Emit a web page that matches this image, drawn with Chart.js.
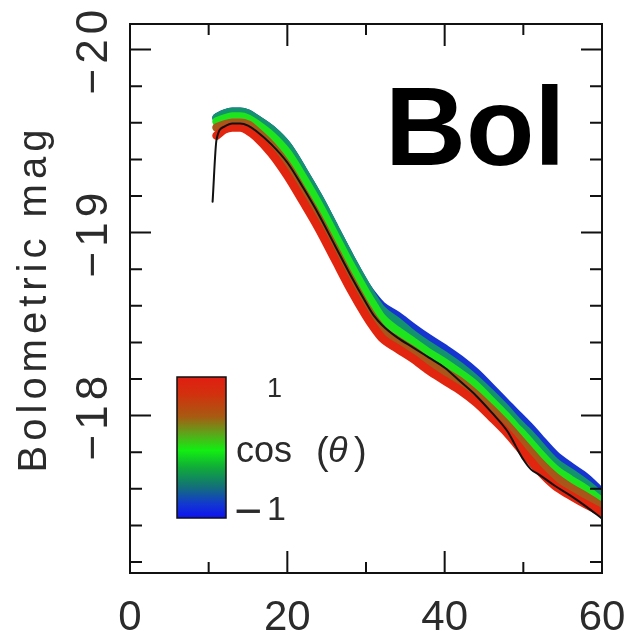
<!DOCTYPE html>
<html>
<head>
<meta charset="utf-8">
<script src="https://cdn.jsdelivr.net/npm/chart.js@4.4.1/dist/chart.umd.min.js"></script>
<style>
  html, body { margin: 0; padding: 0; background: #fff; }
  #wrap { width: 624px; height: 631px; position: relative; }
</style>
</head>
<body>
<div id="wrap"><canvas id="myChart"></canvas></div>
<script>
// days since explosion
let blackDays = [10.5, 11, 12, 13, 14, 15, 16, 18, 20, 22, 24, 26, 28, 30, 31, 32, 34, 36, 38, 40, 42, 44, 46, 48, 49, 50, 51, 52, 54, 56, 58, 60];
let days = [11, 12, 13, 14, 15, 16, 18, 20, 22, 24, 26, 28, 30, 31, 32, 34, 36, 38, 40, 42, 44, 46, 48, 49, 50, 51, 52, 54, 56, 58, 60];

// bolometric magnitudes
let magBlack = [-19.169, -19.508, -19.579, -19.596, -19.596, -19.585, -19.557, -19.481, -19.383, -19.246, -19.098, -18.934, -18.770, -18.617, -18.546, -18.497, -18.426, -18.372, -18.317, -18.262, -18.186, -18.109, -18.016, -17.913, -17.836, -17.760, -17.705, -17.678, -17.617, -17.563, -17.503, -17.437];
let magCos1 = [-19.530, -19.563, -19.574, -19.574, -19.557, -19.525, -19.432, -19.311, -19.169, -19.022, -18.858, -18.694, -18.546, -18.481, -18.426, -18.366, -18.311, -18.246, -18.191, -18.137, -18.071, -17.989, -17.902, -17.852, -17.798, -17.749, -17.699, -17.617, -17.563, -17.514, -17.470];
let magCosHalf = [-19.574, -19.590, -19.601, -19.601, -19.590, -19.557, -19.475, -19.366, -19.224, -19.077, -18.913, -18.749, -18.596, -18.530, -18.475, -18.410, -18.355, -18.295, -18.240, -18.186, -18.115, -18.033, -17.945, -17.896, -17.847, -17.798, -17.749, -17.667, -17.607, -17.557, -17.503];
let magCos0 = [-19.607, -19.623, -19.634, -19.634, -19.623, -19.596, -19.530, -19.437, -19.301, -19.153, -18.989, -18.825, -18.672, -18.601, -18.536, -18.464, -18.404, -18.344, -18.290, -18.230, -18.164, -18.077, -17.989, -17.940, -17.896, -17.847, -17.798, -17.710, -17.650, -17.596, -17.530];
let magCosMinusHalf = [-19.628, -19.650, -19.661, -19.661, -19.650, -19.623, -19.563, -19.475, -19.339, -19.191, -19.027, -18.863, -18.710, -18.639, -18.579, -18.514, -18.443, -18.383, -18.328, -18.268, -18.197, -18.115, -18.027, -17.978, -17.934, -17.891, -17.842, -17.749, -17.689, -17.628, -17.557];
let magCosMinus1 = [-19.628, -19.650, -19.661, -19.661, -19.650, -19.623, -19.563, -19.475, -19.339, -19.191, -19.027, -18.863, -18.710, -18.650, -18.601, -18.546, -18.481, -18.421, -18.366, -18.306, -18.235, -18.148, -18.060, -18.016, -17.973, -17.929, -17.880, -17.787, -17.721, -17.661, -17.579];

let cosLabels = ["1", "0.5", "0", "-0.5", "-1"];
let cosColors = ["#e2250e", "#a8561a", "#1ee41e", "#13926e", "#1534d0"];

let xMajor = [0, 20, 40, 60];
let xMinor = [10, 30, 50];
let yMajor = [-20, -19, -18];
let yMinor = [-19.8, -19.6, -19.4, -19.2, -18.8, -18.6, -18.4, -18.2, -17.8, -17.6, -17.4, -17.2];
let yMin = -20.14;
let yMax = -17.14;

const FONT = "'Liberation Sans', Arial, Helvetica, sans-serif";

function toPoints(xs, ys) {
  return xs.map((x, i) => ({ x: x, y: ys[i] }));
}

const decorPlugin = {
  id: "decor",
  afterDraw(chart) {
    const ctx = chart.ctx;
    const area = chart.chartArea;
    const xs = chart.scales.x;
    const ys = chart.scales.y;
    ctx.save();

    // frame + inward ticks on all four sides
    ctx.strokeStyle = "#111";
    ctx.lineWidth = 2;
    ctx.strokeRect(area.left, area.top, area.right - area.left, area.bottom - area.top);
    ctx.beginPath();
    xMajor.concat(xMinor).forEach((v) => {
      const len = xMajor.includes(v) ? 22 : 11;
      const px = xs.getPixelForValue(v);
      ctx.moveTo(px, area.bottom);
      ctx.lineTo(px, area.bottom - len);
      ctx.moveTo(px, area.top);
      ctx.lineTo(px, area.top + len);
    });
    yMajor.concat(yMinor).forEach((v) => {
      const len = yMajor.includes(v) ? 21 : 12;
      const py = ys.getPixelForValue(v);
      ctx.moveTo(area.left, py);
      ctx.lineTo(area.left + len, py);
      ctx.moveTo(area.right, py);
      ctx.lineTo(area.right - len, py);
    });
    ctx.stroke();

    // rotated y tick labels
    ctx.fillStyle = "#2b2b2b";
    ctx.font = "44px " + FONT;
    ctx.letterSpacing = "5px";
    ctx.textAlign = "center";
    ctx.textBaseline = "alphabetic";
    yMajor.forEach((v) => {
      const py = ys.getPixelForValue(v);
      ctx.save();
      ctx.translate(area.left - 23, py);
      ctx.rotate(-Math.PI / 2);
      ctx.fillText("\u2212" + Math.abs(v), 0, 0);
      ctx.restore();
    });

    // y axis title
    ctx.font = "40px " + FONT;
    ctx.letterSpacing = "5px";
    ctx.save();
    ctx.translate(area.left - 84, (area.top + area.bottom) / 2);
    ctx.rotate(-Math.PI / 2);
    ctx.fillText("Bolometric mag", 0, 0);
    ctx.restore();
    ctx.letterSpacing = "0px";

    // band name
    ctx.fillStyle = "#000";
    ctx.textAlign = "left";
    ctx.font = "bold 112px " + FONT;
    ctx.fillText("Bol", area.left + 255, area.top + 141);

    // colour bar for cos(theta)
    const bx = area.left + 47, by = area.top + 353, bw = 49, bh = 141;
    const grad = ctx.createLinearGradient(0, by, 0, by + bh);
    grad.addColorStop(0, "#e01e12");
    grad.addColorStop(0.12, "#d2300e");
    grad.addColorStop(0.28, "#a85a12");
    grad.addColorStop(0.4, "#5ea41a");
    grad.addColorStop(0.52, "#12ee12");
    grad.addColorStop(0.64, "#10ac38");
    grad.addColorStop(0.78, "#127078");
    grad.addColorStop(0.9, "#1238d0");
    grad.addColorStop(1, "#0e12f2");
    ctx.fillStyle = grad;
    ctx.fillRect(bx, by, bw, bh);
    ctx.strokeStyle = "#111";
    ctx.lineWidth = 1.5;
    ctx.strokeRect(bx, by, bw, bh);

    ctx.fillStyle = "#2b2b2b";
    ctx.font = "27px " + FONT;
    ctx.fillText("1", bx + 90, by + 20);
    ctx.font = "36px " + FONT;
    ctx.fillText("cos", bx + 59, by + 85);
    ctx.font = "38px " + FONT;
    ctx.fillText("(", bx + 139, by + 87);
    ctx.fillText(")", bx + 177, by + 87);
    ctx.font = "italic 36px " + FONT;
    ctx.fillText("\u03b8", bx + 151, by + 85);
    ctx.font = "48px " + FONT;
    ctx.fillText("\u2212", bx + 57, by + 150);
    ctx.font = "34px " + FONT;
    ctx.fillText("1", bx + 90, by + 143);

    ctx.restore();
  },
};

const magSeries = [magCos1, magCosHalf, magCos0, magCosMinusHalf, magCosMinus1];
const dataSets = [
  {
    label: "angle average",
    data: toPoints(blackDays, magBlack),
    borderColor: "#111111",
    borderWidth: 2,
  },
];
magSeries.forEach((mags, i) => {
  dataSets.push({
    label: "cos = " + cosLabels[i],
    data: toPoints(days, mags),
    borderColor: cosColors[i],
    borderWidth: 8.5,
  });
});

var ctx = document.getElementById("myChart").getContext("2d");
var myChart = new Chart(ctx, {
  type: "line",
  data: { datasets: dataSets },
  options: {
    responsive: true,
    maintainAspectRatio: false,
    animation: false,
    layout: { padding: { top: 24, right: 22, left: 0, bottom: 0 } },
    elements: {
      point: { radius: 0 },
      line: { cubicInterpolationMode: "monotone", fill: false, borderCapStyle: "round", borderJoinStyle: "round" },
    },
    plugins: {
      legend: { display: false },
      tooltip: { enabled: false },
    },
    scales: {
      x: {
        type: "linear",
        min: 0,
        max: 60,
        grid: { display: false },
        border: { display: false },
        afterBuildTicks: (scale) => {
          scale.ticks = xMajor.map((v) => ({ value: v }));
        },
        afterFit: (scale) => {
          scale.height = 58;
          scale.paddingLeft = 0;
          scale.paddingRight = 0;
        },
        ticks: {
          color: "#2b2b2b",
          padding: 16,
          maxRotation: 0,
          autoSkip: false,
          font: { family: FONT, size: 42, lineHeight: 1 },
          callback: (v) => String(v),
        },
      },
      y: {
        type: "linear",
        reverse: true,
        min: yMin,
        max: yMax,
        grid: { display: false },
        border: { display: false },
        ticks: { display: false },
        afterFit: (scale) => {
          scale.width = 130;
        },
      },
    },
  },
  plugins: [decorPlugin],
});
</script>
</body>
</html>
